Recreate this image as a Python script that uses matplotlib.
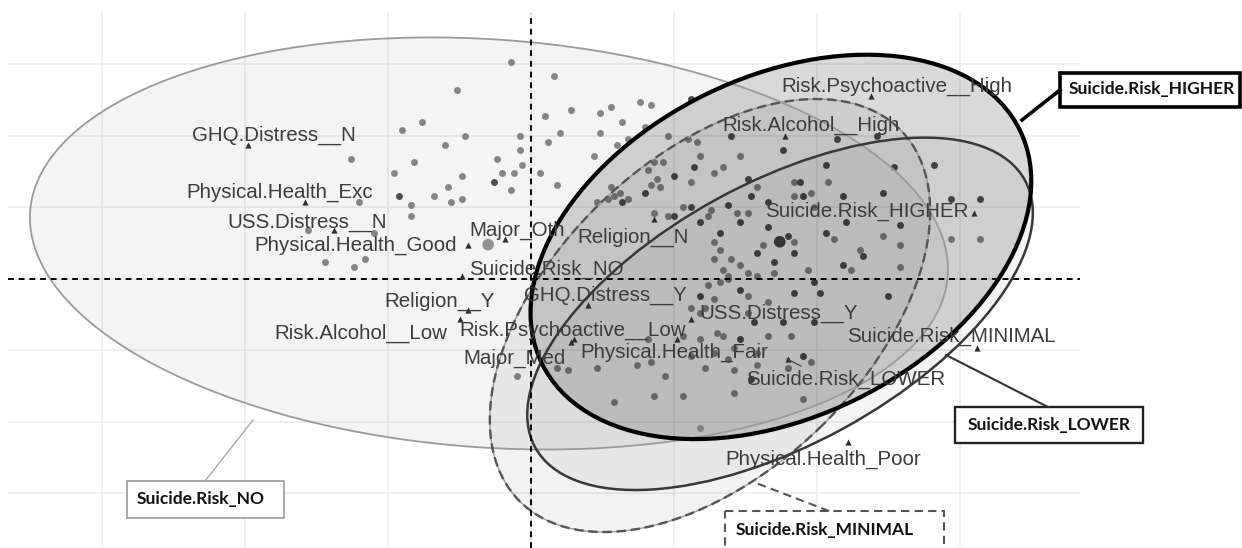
import matplotlib.pyplot as plt
from matplotlib.patches import Ellipse, Rectangle

# individuals (Dim 1, Dim 2), split by shade
mid_x = [-0.07, 0.08, -0.26, -0.38, -0.45, -0.23, -0.30, -0.04, 0.05, 0.14, 0.10, 0.06, -0.04,
         -0.63, -0.41, -0.12, -0.48, -0.24, -0.10, -0.06, -0.03, 0.03, 0.09, -0.07, -0.29, -0.34,
         -0.42, -0.28, -0.24, -0.60, -0.42, -0.55, -0.78, -0.72, -0.62, -0.58, 0.22, 0.24, 0.28,
         0.24, 0.30, 0.38, 0.42, 0.32, 0.34, 0.40,
         0.48, 0.55, 0.58, 0.43, 0.46, 0.41, 0.59, 0.64, 0.67, 0.73, 0.28, 0.31, 0.42, 0.45, 0.34,
         0.27, 0.23, 0.56, 0.43, 0.48, 0.62, 0.72, 0.76, 0.79, 0.81, 0.66, 0.64, 0.64, 0.70, 0.73,
         0.76, 0.69, 0.76, 0.62, 1.04, 0.98, 1.06, 1.23, 1.29, 1.47, 1.57, 1.15, 1.12, 0.97, 1.29,
         0.92, 0.92, 0.99, 0.44, 0.63, 0.92, 0.79, 0.29, 0.53, 0.67, 0.69, 0.85,
         0.56, 0.59, 0.91, 0.41, 0.59, 0.67, 0.47, 0.61, 0.71, 0.79, 0.98, 0.90, 0.43, 0.53, 0.71,
         0.95, 0.66, 0.64, 0.76, 0.83, 0.83, 0.65, 0.53, 0.71, 0.64, 0.69, 0.79, 0.56, 0.37, 0.42,
         0.29, -0.05, 0.09, 0.13, 0.23, 0.61]
mid_y = [0.76, 0.71, 0.66, 0.55, 0.52, 0.50, 0.47, 0.50, 0.57, 0.59, 0.51, 0.48, 0.45,
         0.42, 0.41, 0.42, 0.37, 0.36, 0.37, 0.37, 0.40, 0.37, 0.33, 0.31, 0.32, 0.29,
         0.26, 0.27, 0.28, 0.27, 0.22, 0.16, 0.17, 0.06, 0.04, 0.07, 0.43, 0.58, 0.60,
         0.51, 0.47, 0.62, 0.61, 0.55, 0.49, 0.53,
         0.50, 0.49, 0.48, 0.41, 0.41, 0.38, 0.43, 0.37, 0.39, 0.43, 0.32, 0.30, 0.33, 0.32, 0.28,
         0.28, 0.27, 0.34, 0.23, 0.22, 0.22, 0.23, 0.23, 0.32, 0.12, 0.10, 0.13, 0.07, 0.07, 0.05,
         0.02, 0.01, -0.06, -0.02, 0.34, 0.30, 0.14, 0.15, 0.12, 0.14, 0.14, 0.10, 0.03, 0.03, 0.04,
         0.34, 0.29, 0.25, 0.35, 0.24, 0.13, 0.01, 0.29, 0.25, 0.03, 0.00, 0.02,
         -0.10, -0.12, -0.20, -0.21, -0.21, -0.20, -0.34, -0.31, -0.32, -0.30, -0.29, -0.31, -0.41,
         -0.41, -0.40, -0.42, -0.01, -0.07, -0.12, -0.08, -0.20, -0.19, -0.20, -0.24, -0.26, -0.28,
         -0.26, -0.27, -0.30, -0.29, -0.43, -0.34, -0.31, -0.32, -0.31, -0.10]

dark_x = [-0.13, -0.46, 0.56,
          0.70, 0.50, 0.57, 0.40, 0.32, 0.56, 0.50, 0.59, 0.69, 0.76, 0.77, 0.83, 0.79, 0.73, 0.66,
          0.73, 0.59, 0.88, 1.07, 1.21, 1.03, 1.27, 1.41, 0.95, 1.09, 1.23, 1.47, 1.57, 1.10, 1.03,
          1.29, 1.16, 1.09, 0.99, 1.01, 1.25, 0.94, 0.83, 0.90, 0.85, 0.92, 0.92,
          0.78, 0.88, 0.95, 0.77, 0.73, 0.99]
dark_y = [0.34, 0.29, 0.63,
          0.50, 0.36, 0.39, 0.30, 0.27, 0.25, 0.22, 0.20, 0.26, 0.35, 0.29, 0.18, 0.09, 0.20, 0.16,
          -0.04, -0.06, 0.45, 0.49, 0.50, 0.40, 0.39, 0.40, 0.29, 0.29, 0.30, 0.28, 0.28, 0.20, 0.16,
          0.19, 0.08, 0.05, -0.01, -0.05, -0.06, 0.34, 0.27, 0.15, 0.06, 0.09, -0.05,
          -0.15, -0.15, -0.27, -0.35, -0.21, -0.15]

light_x = [0.59]
light_y = [-0.52]

# group means drawn larger
big_x = [-0.15, 0.87]
big_y = [0.12, 0.13]
big_col = ['#9a9a9a', '#4a4a4a']

# category coordinates
cat_names = ['GHQ.Distress__N', 'Physical.Health_Exc', 'USS.Distress__N', 'Physical.Health_Good',
             'Major_Oth', 'Suicide.Risk_NO', 'Religion__N', 'Religion__Y', 'GHQ.Distress__Y',
             'Risk.Alcohol__Low', 'Risk.Psychoactive__Low', 'Major_Med', 'Physical.Health_Fair',
             'USS.Distress__Y', 'Suicide.Risk_MINIMAL', 'Suicide.Risk_LOWER', 'Physical.Health_Poor',
             'Suicide.Risk_HIGHER', 'Risk.Psychoactive__High', 'Risk.Alcohol__High']
cat_x = [-0.99, -0.79, -0.69, -0.22, -0.09, -0.24, 0.43, -0.22, 0.20, -0.25,
         0.51, 0.14, 0.15, 0.56, 1.56, 0.90, 1.11, 1.55, 1.19, 0.89]
cat_y = [0.47, 0.27, 0.17, 0.12, 0.14, 0.01, 0.21, -0.11, -0.09, -0.14,
         -0.21, -0.22, -0.21, -0.14, -0.24, -0.28, -0.57, 0.23, 0.64, 0.50]
# label offsets from the point, in pixels (repel-style placement)
label_off = [(26, 4), (-25, 4), (-27, 3), (-112, -6), (12, 3), (84, 1), (-21, -24), (-29, 4),
             (17, 4), (-99, -20), (-104, 3), (-57, -22), (100, -19), (88, 0), (-26, 6),
             (57, -26), (-25, -23), (-107, -4), (26, 4), (26, 5)]

# confidence ellipses: centre, width, height, angle
groups = ['NO', 'MINIMAL', 'LOWER', 'HIGHER']
ell_cx = [-0.147, 0.626, 0.871, 0.874]
ell_cy = [0.124, -0.128, -0.122, 0.112]
ell_w = [3.217, 1.860, 1.951, 1.860]
ell_h = [1.427, 1.098, 0.916, 1.189]
ell_ang = [-4, 44, 28.6, 26]

fig = plt.figure(figsize=(12.42, 5.48), dpi=100)
ax = fig.add_axes([8 / 1242, 0, 1072 / 1242, 535 / 548])
ax.set_xlim(-1.829, 1.920)
ax.set_ylim(-0.941, 0.930)
ax.set_xticks([-1.5, -1, -0.5, 0, 0.5, 1, 1.5])
ax.set_yticks([-0.75, -0.5, -0.25, 0, 0.25, 0.5, 0.75])
ax.tick_params(length=0, labelbottom=False, labelleft=False)
ax.grid(True, color='#ececec', lw=1.1)
ax.set_axisbelow(True)
for s in ax.spines.values():
    s.set_visible(False)

ax.scatter(mid_x, mid_y, s=25, color='#8c8c8c', lw=0, zorder=2)
ax.scatter(dark_x, dark_y, s=25, color='#525252', lw=0, zorder=2)
ax.scatter(light_x, light_y, s=25, color='#b0b0b0', lw=0, zorder=2)
ax.scatter(big_x, big_y, s=70, color=big_col, lw=0, zorder=2)

fills = {'NO': 0.045, 'MINIMAL': 0.05, 'LOWER': 0.045, 'HIGHER': 0.15}
for g, cx, cy, w, h, a in zip(groups, ell_cx, ell_cy, ell_w, ell_h, ell_ang):
    ax.add_patch(Ellipse((cx, cy), w, h, angle=a, facecolor=(0, 0, 0, fills[g]),
                         edgecolor='none', zorder=3))

edge = dict(facecolor='none', zorder=4)
ax.add_patch(Ellipse((ell_cx[0], ell_cy[0]), ell_w[0], ell_h[0], angle=ell_ang[0],
                     edgecolor='#9a9a9a', lw=1.3, **edge))
ax.add_patch(Ellipse((ell_cx[1], ell_cy[1]), ell_w[1], ell_h[1], angle=ell_ang[1],
                     edgecolor='#999999', lw=1.0, **edge))
ax.add_patch(Ellipse((ell_cx[1], ell_cy[1]), ell_w[1], ell_h[1], angle=ell_ang[1],
                     edgecolor='#555555', lw=1.7, ls=(0, (4, 2)), **edge))
ax.add_patch(Ellipse((ell_cx[2], ell_cy[2]), ell_w[2], ell_h[2], angle=ell_ang[2],
                     edgecolor='#383838', lw=1.8, **edge))
ax.add_patch(Ellipse((ell_cx[3], ell_cy[3]), ell_w[3], ell_h[3], angle=ell_ang[3],
                     edgecolor='black', lw=3.0, **edge))

ax.axhline(0, color='black', lw=1.4, ls=(0, (3, 2.5)), zorder=5)
ax.axvline(0, color='black', lw=1.4, ls=(0, (3, 2.5)), zorder=5)

ax.scatter(cat_x, cat_y, marker='^', s=20, color='#2e2e2e', lw=0, zorder=6)
for name, x, y, off in zip(cat_names, cat_x, cat_y, label_off):
    ax.annotate(name, (x, y), xytext=off, textcoords='offset pixels', ha='center',
                va='baseline', fontsize=14.8, family='Liberation Sans', color='#3c3c3c', zorder=7)

# callout boxes on top of everything, laid out in figure pixels
ov = fig.add_axes([0, 0, 1, 1])
ov.set_xlim(0, 1242)
ov.set_ylim(548, 0)
ov.axis('off')
ov.patch.set_alpha(0)
box_font = dict(fontsize=12.5, weight='bold', family=['Lato', 'DejaVu Sans'],
                color='#111111', ha='center', va='center')

ov.plot([787, 801], [359, 366], color='#444444', lw=0.9)

ov.plot([1060, 1022], [90, 120], color='black', lw=2.6)
ov.add_patch(Rectangle((1060, 73), 180, 34, facecolor='white', edgecolor='black', lw=2.6))
ov.text(1152, 89, 'Suicide.Risk_HIGHER', **box_font)

ov.plot([1048, 946], [407, 355], color='#333333', lw=1.5)
ov.add_patch(Rectangle((955, 407), 188, 36, facecolor='white', edgecolor='#222222', lw=1.7))
ov.text(1049, 425, 'Suicide.Risk_LOWER', **box_font)

ov.plot([829, 756], [511, 483], color='#555555', lw=1.5, ls=(0, (4, 2.5)))
ov.add_patch(Rectangle((725, 511), 219, 42, facecolor='white', edgecolor='#555555', lw=1.5,
                       ls=(0, (4, 2.5))))
ov.text(825, 530, 'Suicide.Risk_MINIMAL', **box_font)

ov.plot([205, 253], [481, 420], color='#aaaaaa', lw=1.0)
ov.add_patch(Rectangle((127, 481), 157, 37, facecolor='white', edgecolor='#999999', lw=1.2))
ov.text(201, 499, 'Suicide.Risk_NO', **box_font)

fig.savefig('out.png', dpi=100)
